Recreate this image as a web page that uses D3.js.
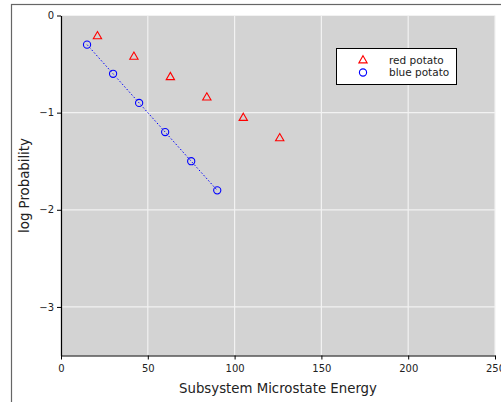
<!DOCTYPE html>
<html><head><meta charset="utf-8">
<script src="https://cdn.jsdelivr.net/npm/d3@7"></script>
<style>body{margin:0;background:#fff}svg{display:block}text{font-family:"DejaVu Sans",sans-serif}</style>
</head><body>
<svg id="c" width="501" height="402"></svg>
<script>
const redX = [21, 42, 63, 84, 105, 126];
const redY = [-0.21, -0.42, -0.63, -0.84, -1.05, -1.26];
const blueX = [15, 30, 45, 60, 75, 90];
const blueY = [-0.3, -0.6, -0.9, -1.2, -1.5, -1.8];
const xTicks = [0, 50, 100, 150, 200, 250];
const yTicks = [0, -1, -2, -3];
const seriesNames = ["red potato", "blue potato"];

const svg = d3.select("#c");
const L = 61, R = 495, T = 15.5, B = 355.5;
const x = d3.scaleLinear().domain([0, 250]).range([L, R]);
const y = d3.scaleLinear().domain([0, -3.5]).range([T, B]);

// outer frame
svg.append("rect").attr("x", 11.5).attr("y", 4.5).attr("width", 600).attr("height", 600)
  .attr("fill", "none").attr("stroke", "#666").attr("stroke-width", 1.2);

// plot background
svg.append("rect").attr("x", L).attr("y", T).attr("width", R - L).attr("height", B - T).attr("fill", "#d3d3d3");

// grid
const g = svg.append("g");
g.selectAll(".vx").data(xTicks).join("line")
  .attr("x1", d => x(d)).attr("x2", d => x(d)).attr("y1", T).attr("y2", B)
  .attr("stroke", "#f2f2f2").attr("stroke-width", 1.2);
g.selectAll(".hy").data(yTicks).join("line")
  .attr("x1", L).attr("x2", R).attr("y1", d => y(d)).attr("y2", d => y(d))
  .attr("stroke", "#f2f2f2").attr("stroke-width", 1.2);

// axes
const fmt = d => d < 0 ? "\u2212" + Math.abs(d) : String(d);
const xa = svg.append("g").attr("transform", `translate(0,${B})`)
  .call(d3.axisBottom(x).tickValues(xTicks).tickFormat(fmt).tickSize(4).tickSizeOuter(0));
const ya = svg.append("g").attr("transform", `translate(${L},0)`)
  .call(d3.axisLeft(y).tickValues(yTicks).tickFormat(fmt).tickSize(4).tickSizeOuter(0));
[xa, ya].forEach(a => {
  a.selectAll("text").attr("font-size", 10).attr("fill", "#222").attr("font-family", "DejaVu Sans");
  a.select(".domain").attr("stroke", "#000").attr("stroke-width", 1.2);
  a.selectAll(".tick line").attr("stroke", "#000");
});
xa.selectAll("text").attr("dy", "0.9em");

// axis titles
svg.append("text").attr("x", (L + R) / 2).attr("y", 393).attr("text-anchor", "middle")
  .attr("font-size", 13.3).attr("fill", "#222").text("Subsystem Microstate Energy");
svg.append("text").attr("transform", `translate(29,${(T + B) / 2}) rotate(-90)`).attr("text-anchor", "middle")
  .attr("font-size", 13.3).attr("fill", "#222").text("log Probability");

// blue dotted line
const blue = blueX.map((v, i) => [v, blueY[i]]);
const red = redX.map((v, i) => [v, redY[i]]);
svg.append("path").datum(blue)
  .attr("d", d3.line().x(d => x(d[0])).y(d => y(d[1])))
  .attr("fill", "none").attr("stroke", "#0000ff").attr("stroke-width", 1).attr("stroke-dasharray", "1.5,2");

svg.selectAll(".bc").data(blue).join("circle")
  .attr("cx", d => x(d[0])).attr("cy", d => y(d[1])).attr("r", 3.6)
  .attr("fill", "none").attr("stroke", "#0000ff").attr("stroke-width", 1.1);

const tri = d3.symbol().type(d3.symbolTriangle).size(30);
svg.selectAll(".rt").data(red).join("path")
  .attr("transform", d => `translate(${x(d[0])},${y(d[1]) + 0.5})`)
  .attr("d", tri).attr("fill", "none").attr("stroke", "#ff0000").attr("stroke-width", 1.1);

// legend
const lg = svg.append("g");
lg.append("rect").attr("x", 336.5).attr("y", 48.5).attr("width", 120).attr("height", 36)
  .attr("fill", "#fff").attr("stroke", "#000").attr("stroke-width", 1);
lg.append("path").attr("transform", "translate(363,60.5)").attr("d", tri)
  .attr("fill", "none").attr("stroke", "#ff0000").attr("stroke-width", 1.1);
lg.append("circle").attr("cx", 363).attr("cy", 72.5).attr("r", 3.6)
  .attr("fill", "none").attr("stroke", "#0000ff").attr("stroke-width", 1.1);
lg.selectAll(".lt").data(seriesNames).join("text")
  .attr("x", 389).attr("y", (d, i) => 63.5 + i * 12.5)
  .attr("font-size", 10.5).attr("fill", "#222").text(d => d);
</script>
</body></html>
